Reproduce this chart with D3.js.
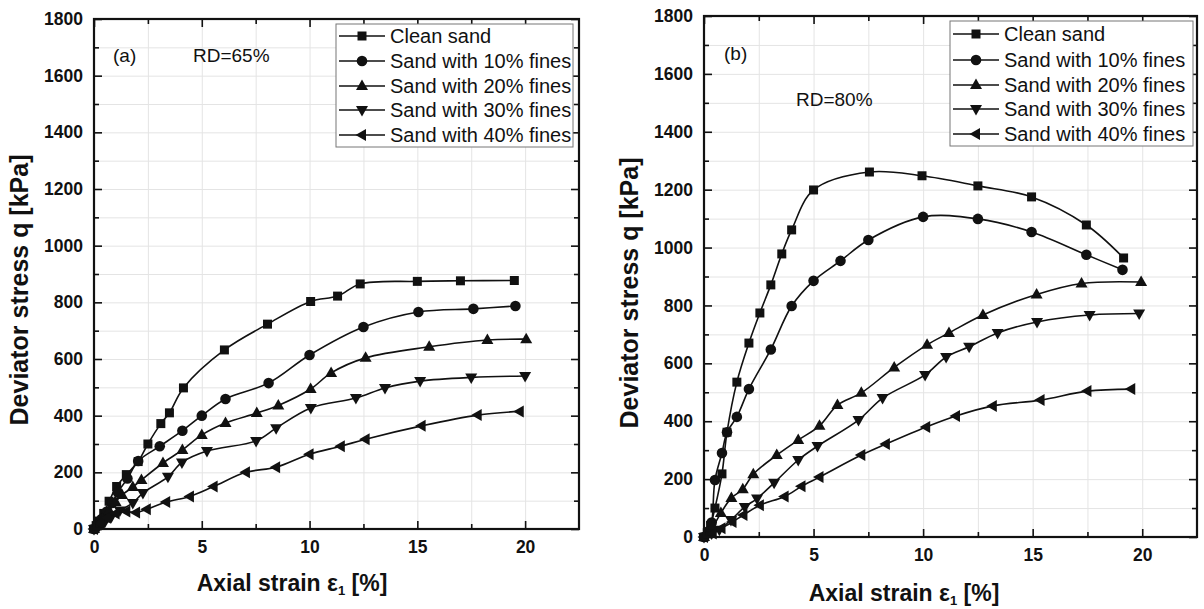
<!DOCTYPE html>
<html>
<head>
<meta charset="utf-8">
<script src="https://cdn.jsdelivr.net/npm/d3@7"></script>
<style>
  body { margin: 0; background: #fff; }
  svg text { font-family: "Liberation Sans", Arial, sans-serif; fill: #111; }
</style>
</head>
<body>
<div id="content"></div>
<script>
// series labels, shared by both panels
var seriesNames = ['Clean sand', 'Sand with 10% fines', 'Sand with 20% fines',
                   'Sand with 30% fines', 'Sand with 40% fines'];
var xTicks = [0, 5, 10, 15, 20];
var yTicks = [0, 200, 400, 600, 800, 1000, 1200, 1400, 1600, 1800];

// Panel (a), RD=65%  -- [axial strain %, deviator stress kPa]
var cleanA = [[0,0],[0.1,12],[0.25,28],[0.45,55],[0.7,98],[1.05,150],[1.5,192],[2.05,238],[2.5,300],
  [3.1,372],[3.5,410],[4.15,498],[6.05,632],[8.05,723],[10.05,803],[11.3,822],[12.35,865],[15.0,874],[17.0,876],[19.5,877]];
var fines10A = [[0,0],[0.15,15],[0.35,35],[0.6,62],[0.85,92],[1.1,130],[1.55,178],[2.05,240],[3.05,292],
  [4.1,347],[5.0,400],[6.1,459],[8.1,515],[10.0,614],[12.5,713],[15.05,766],[17.6,777],[19.55,787]];
var fines20A = [[0,0],[0.2,15],[0.4,35],[0.7,65],[1.0,95],[1.3,120],[1.8,148],[2.2,173],[3.2,233],[4.1,279],
  [5.0,332],[6.1,374],[7.55,409],[8.55,436],[10.05,494],[11.0,551],[12.6,604],[15.55,643],[18.25,667],[20.05,670]];
var fines30A = [[0,0],[0.25,12],[0.5,25],[0.8,42],[1.2,65],[1.8,92],[2.27,127],[3.43,184],[4.08,235],[5.24,275],
  [7.52,311],[8.45,356],[10.06,427],[12.15,462],[13.5,498],[15.13,522],[17.5,535],[20.0,540]];
var fines40A = [[0,0],[0.3,20],[0.6,40],[1.0,55],[1.5,62],[1.95,58],[2.45,70],[3.35,95],[4.45,115],[5.55,150],
  [7.05,200],[8.45,218],[10.0,264],[11.45,292],[12.6,317],[15.2,364],[17.8,402],[19.75,415]];

// Panel (b), RD=80%
var cleanB = [[0,0],[0.15,15],[0.3,40],[0.5,100],[0.82,218],[1.05,362],[1.5,535],[2.05,670],[2.55,774],
  [3.05,871],[3.55,978],[4.0,1061],[5.0,1199],[7.55,1261],[9.95,1248],[12.5,1213],[14.95,1175],[17.45,1078],[19.15,964]];
var fines10B = [[0,0],[0.2,20],[0.35,50],[0.5,197],[0.82,290],[1.05,362],[1.5,415],[2.05,511],[3.05,648],
  [4.0,798],[5.0,885],[6.23,954],[7.5,1026],[10.0,1106],[12.5,1099],[14.95,1054],[17.45,975],[19.1,923]];
var fines20B = [[0,0],[0.4,35],[0.77,83],[1.25,135],[1.77,165],[2.25,217],[3.32,283],[4.3,335],[5.27,384],
  [6.09,456],[7.18,498],[8.68,586],[10.18,664],[11.18,705],[12.73,767],[15.18,838],[17.23,876],[19.95,881]];
var fines30B = [[0,0],[0.35,12],[0.7,25],[1.23,59],[1.86,104],[2.42,133],[3.2,187],[4.3,266],[5.18,314],
  [7.05,404],[8.15,480],[10.09,560],[11.05,622],[12.1,657],[13.4,705],[15.2,743],[17.6,767],[19.86,772]];
var fines40B = [[0,0],[0.4,12],[0.8,30],[1.3,52],[1.8,76],[2.55,110],[3.68,140],[4.45,175],[5.27,207],
  [7.18,283],[8.3,321],[10.14,380],[11.5,418],[13.18,453],[15.36,473],[17.5,504],[19.5,511]];

var markers = [
  'M-4.5,-4.5h9v9h-9z',
  d3.symbol(d3.symbolCircle, 88)(),
  'M0,-6.5L6,4L-6,4Z',
  'M0,6.5L6,-4L-6,-4Z',
  'M-6.5,0L4,-6L4,6Z'
];

var svg = d3.select('#content').append('svg')
    .attr('width', 1204)
    .attr('height', 609);

function drawPanel(p) {
    var x = d3.scaleLinear().domain([0, 22.5]).range([p.left, p.right]);
    var y = d3.scaleLinear().domain([0, 1800]).range([p.bottom, p.top]);
    var w = p.right - p.left, h = p.bottom - p.top;
    var g = svg.append('g');

    // light grid every 2.5 % and 100 kPa
    g.append('g').attr('transform', 'translate(0,' + p.bottom + ')')
        .call(d3.axisBottom(x).tickValues(d3.range(2.5, 22.5, 2.5)).tickSize(-h).tickFormat(''))
        .call(function(s) { s.select('.domain').remove(); s.selectAll('line').attr('stroke', '#e4e4e4'); });
    g.append('g').attr('transform', 'translate(' + p.left + ',0)')
        .call(d3.axisLeft(y).tickValues(d3.range(100, 1800, 100)).tickSize(-w).tickFormat(''))
        .call(function(s) { s.select('.domain').remove(); s.selectAll('line').attr('stroke', '#e4e4e4'); });

    // curves + markers
    var line = d3.line()
        .x(function(d) { return x(d[0]); })
        .y(function(d) { return y(d[1]); })
        .curve(d3.curveCatmullRom.alpha(0.5));
    p.series.forEach(function(data, i) {
        g.append('path').datum(data)
            .attr('d', line)
            .attr('fill', 'none')
            .attr('stroke', '#111')
            .attr('stroke-width', 1.6);
        g.selectAll('.m' + i).data(data).enter()
            .append('path')
            .attr('class', 'm' + i)
            .attr('d', markers[i])
            .attr('transform', function(d) { return 'translate(' + x(d[0]) + ',' + y(d[1]) + ')'; })
            .attr('fill', '#111');
    });

    // ticks (inward) on all four sides
    var minorX = d3.range(2.5, 22.5, 5), minorY = d3.range(100, 1800, 200);
    function tickStyle(s) { s.select('.domain').remove(); s.selectAll('line').attr('stroke', '#111').attr('stroke-width', 1.6); }

    g.append('g').attr('transform', 'translate(0,' + p.bottom + ')')
        .call(d3.axisBottom(x).tickValues(xTicks).tickSize(-8).tickPadding(12).tickFormat(d3.format('d')))
        .call(tickStyle)
        .selectAll('text').attr('font-size', 17.5).attr('font-weight', 'bold').attr('fill', '#111');
    g.append('g').attr('transform', 'translate(0,' + p.bottom + ')')
        .call(d3.axisBottom(x).tickValues(minorX).tickSize(-5).tickFormat('')).call(tickStyle);
    g.append('g').attr('transform', 'translate(0,' + p.top + ')')
        .call(d3.axisTop(x).tickValues(xTicks).tickSize(-8).tickFormat('')).call(tickStyle);
    g.append('g').attr('transform', 'translate(0,' + p.top + ')')
        .call(d3.axisTop(x).tickValues(minorX).tickSize(-5).tickFormat('')).call(tickStyle);

    g.append('g').attr('transform', 'translate(' + p.left + ',0)')
        .call(d3.axisLeft(y).tickValues(yTicks).tickSize(-8).tickPadding(11).tickFormat(d3.format('d')))
        .call(tickStyle)
        .selectAll('text').attr('font-size', 17.5).attr('font-weight', 'bold').attr('fill', '#111');
    g.append('g').attr('transform', 'translate(' + p.left + ',0)')
        .call(d3.axisLeft(y).tickValues(minorY).tickSize(-5).tickFormat('')).call(tickStyle);
    g.append('g').attr('transform', 'translate(' + p.right + ',0)')
        .call(d3.axisRight(y).tickValues(yTicks).tickSize(-8).tickFormat('')).call(tickStyle);
    g.append('g').attr('transform', 'translate(' + p.right + ',0)')
        .call(d3.axisRight(y).tickValues(minorY).tickSize(-5).tickFormat('')).call(tickStyle);

    // frame
    g.append('rect')
        .attr('x', p.left).attr('y', p.top).attr('width', w).attr('height', h)
        .attr('fill', 'none').attr('stroke', '#111').attr('stroke-width', 2.2);

    // legend
    var lg = g.append('g');
    lg.append('rect')
        .attr('x', p.legend.x).attr('y', p.legend.y)
        .attr('width', p.legend.w).attr('height', p.legend.h)
        .attr('fill', '#fff').attr('stroke', '#777').attr('stroke-width', 1);
    seriesNames.forEach(function(name, i) {
        var ry = p.legend.rows[i];
        var lx = p.legend.x + 3;
        lg.append('line').attr('x1', lx).attr('x2', lx + 46).attr('y1', ry).attr('y2', ry)
            .attr('stroke', '#111').attr('stroke-width', 1.6);
        lg.append('path').attr('d', markers[i])
            .attr('transform', 'translate(' + (lx + 23) + ',' + ry + ')').attr('fill', '#111');
        lg.append('text').attr('x', lx + 51).attr('y', ry + 7)
            .attr('font-size', 20).text(name);
    });

    // annotations
    g.append('text').attr('x', p.tag[0]).attr('y', p.tag[1]).attr('font-size', 19).text(p.tag[2]);
    g.append('text').attr('x', p.rd[0]).attr('y', p.rd[1]).attr('font-size', 19).text(p.rd[2]);

    // axis titles
    g.append('text')
        .attr('transform', 'translate(' + p.yTitle[0] + ',' + p.yTitle[1] + ') rotate(-90)')
        .attr('text-anchor', 'middle').attr('font-size', 25).attr('font-weight', 'bold')
        .text('Deviator stress q [kPa]');
    var xt = g.append('text')
        .attr('x', p.xTitle[0]).attr('y', p.xTitle[1])
        .attr('text-anchor', 'middle').attr('font-size', 23).attr('font-weight', 'bold');
    xt.append('tspan').text('Axial strain \u03b5');
    xt.append('tspan').attr('font-size', 13).attr('dy', 4).text('1');
    xt.append('tspan').attr('dy', -4).text(' [%]');
}

drawPanel({
    left: 94, right: 579, top: 19, bottom: 529,
    series: [cleanA, fines10A, fines20A, fines30A, fines40A],
    legend: { x: 336, y: 24, w: 237, h: 123, rows: [36, 61, 86, 110, 135] },
    tag: [113, 62, '(a)'],
    rd: [193, 62, 'RD=65%'],
    yTitle: [28, 290],
    xTitle: [292, 591]
});

drawPanel({
    left: 704, right: 1197, top: 16, bottom: 537,
    series: [cleanB, fines10B, fines20B, fines30B, fines40B],
    legend: { x: 950, y: 21, w: 243, h: 125, rows: [34, 60, 85, 109, 134] },
    tag: [724, 60, '(b)'],
    rd: [796, 106, 'RD=80%'],
    yTitle: [638, 293],
    xTitle: [904, 601]
});
</script>
</body>
</html>
